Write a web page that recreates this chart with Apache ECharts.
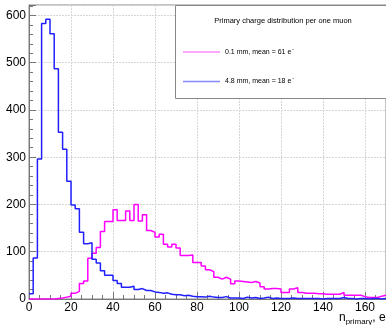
<!DOCTYPE html>
<html>
<head>
<meta charset="utf-8">
<script src="https://cdn.jsdelivr.net/npm/echarts@6/dist/echarts.min.js"></script>
<style>
html,body{margin:0;padding:0;background:#fff;}
#chart{width:386px;height:325px;}
</style>
</head>
<body>
<div id="chart"></div>
<script>
// ---- data ----
const BIN_WIDTH = 2;           // bin width in e-
const X_MIN = 0, X_MAX = 170;
const Y_MIN = 0, Y_MAX = 622;
const X_TICK = 20, Y_TICK = 100;

const seriesNames = ['0.1 mm, mean = 61 e', '4.8 mm, mean = 18 e'];
const legendTitle = 'Primary charge distribution per one muon';

// 0.1 mm (magenta), counts per bin starting at 0
const counts01mm = [
  0, 0, 0, 0, 0, 0, 1, 2, 4, 6,
  12, 16, 33, 38, 86, 97, 109, 143, 164, 164,
  189, 166, 166, 186, 166, 200, 165, 178, 145, 141,
  131, 137, 116, 110, 116, 108, 92, 92, 93, 77,
  77, 70, 62, 58, 46, 42, 46, 42, 32, 38,
  37, 36, 35, 37, 34, 26, 21, 22, 22, 21,
  14, 14, 21, 24, 14, 12, 12, 12, 11, 11,
  10, 10, 10, 10, 14, 8, 8, 8, 8, 5,
  3, 3, 3, 6, 8
];

// 4.8 mm (blue), counts per bin starting at 0
const counts48mm = [
  11, 87, 296, 583, 592, 561, 487, 353, 317, 249,
  199, 191, 141, 117, 119, 84, 76, 60, 50, 50,
  39, 33, 25, 25, 27, 20, 22, 18, 18, 15,
  14, 12, 13, 10, 9, 9, 7, 8, 6, 5,
  5, 4, 6, 4, 3, 3, 5, 2, 2, 2,
  1, 4, 2, 3, 1, 2, 4, 1, 2, 1,
  1, 1, 2, 1, 1, 1, 1, 1, 1, 0,
  1, 1, 1, 1, 3, 1, 1, 0, 1, 1,
  0, 1, 1, 0, 1
];

function toSteps(counts) {
  const pts = counts.map((c, i) => [X_MIN + i * BIN_WIDTH, c]);
  pts.push([X_MIN + counts.length * BIN_WIDTH, counts[counts.length - 1]]);
  return pts;
}

const chart = echarts.init(document.getElementById('chart'), null, {renderer: 'canvas'});
const FONT = 'Liberation Sans, Arial, sans-serif';

chart.setOption({
  animation: false,
  backgroundColor: '#ffffff',
  grid: {left: 29, right: 0, top: 5, bottom: 26, show: true, borderColor: '#888', borderWidth: 1, backgroundColor: 'transparent'},
  xAxis: {
    type: 'value', min: X_MIN, max: X_MAX, interval: X_TICK,
    axisLine: {show: true, onZero: false, lineStyle: {color: '#777', width: 1}},
    axisTick: {show: true, inside: true, length: 7, lineStyle: {color: '#777'}},
    minorTick: {show: true, splitNumber: 4, length: 4, lineStyle: {color: '#777'}},
    splitLine: {show: true, lineStyle: {color: '#d6d6d6', type: [2, 1], width: 1}},
    axisLabel: {color: '#000', fontFamily: FONT, fontSize: 12, margin: 3,
      showMaxLabel: false}
  },
  yAxis: {
    type: 'value', min: Y_MIN, max: Y_MAX, interval: Y_TICK,
    axisLine: {show: true, lineStyle: {color: '#777', width: 1}},
    axisTick: {show: true, inside: true, length: 7, lineStyle: {color: '#777'}},
    minorTick: {show: true, splitNumber: 5, length: 4, lineStyle: {color: '#777'}},
    splitLine: {show: true, lineStyle: {color: '#d6d6d6', type: [2, 1], width: 1}},
    axisLabel: {color: '#000', fontFamily: FONT, fontSize: 12, margin: 3,
      showMaxLabel: false}
  },
  legend: {
    orient: 'vertical', left: 183, top: 47, padding: 0, itemWidth: 37, itemHeight: 1.5, itemGap: 21,
    icon: 'rect', selectedMode: false, z: 10,
    data: [
      {name: seriesNames[0], itemStyle: {color: '#ff88ff'}},
      {name: seriesNames[1], itemStyle: {color: '#8888ff'}}
    ],
    formatter: n => n + '{sup|-}',
    textStyle: {color: '#000', fontFamily: FONT, fontSize: 7,
      rich: {sup: {fontSize: 5, verticalAlign: 'top', padding: [0, 0, 5, 1], fontFamily: FONT}}}
  },
  graphic: [
    {type: 'rect', z: 5, shape: {x: 175.5, y: 5.5, width: 211, height: 93},
      style: {fill: '#fff', stroke: '#888', lineWidth: 1}},
    {type: 'text', z: 6, x: 283, y: 17,
      style: {text: legendTitle, align: 'center', fill: '#000',
        fontFamily: FONT, fontSize: 7.5}},
    {type: 'text', z: 6, x: 339, y: 310,
      style: {text: '{n|n}{sub|primary}{n|, e}{sup|-}', fill: '#000',
        rich: {
          n: {fontFamily: FONT, fontSize: 12},
          sub: {fontFamily: FONT, fontSize: 8, padding: [8, 0, 0, 0]},
          sup: {fontFamily: FONT, fontSize: 8, padding: [0, 0, 8, 0]}
        }}}
  ],
  series: [
    {name: seriesNames[0], type: 'line', step: 'end', data: toSteps(counts01mm),
      showSymbol: false, lineStyle: {color: '#ff00ff', width: 1.5}, itemStyle: {color: '#ff00ff'}, z: 3},
    {name: seriesNames[1], type: 'line', step: 'end', data: toSteps(counts48mm),
      showSymbol: false, lineStyle: {color: '#2020ff', width: 1.5}, itemStyle: {color: '#2020ff'}, z: 4}
  ]
});
</script>
</body>
</html>
